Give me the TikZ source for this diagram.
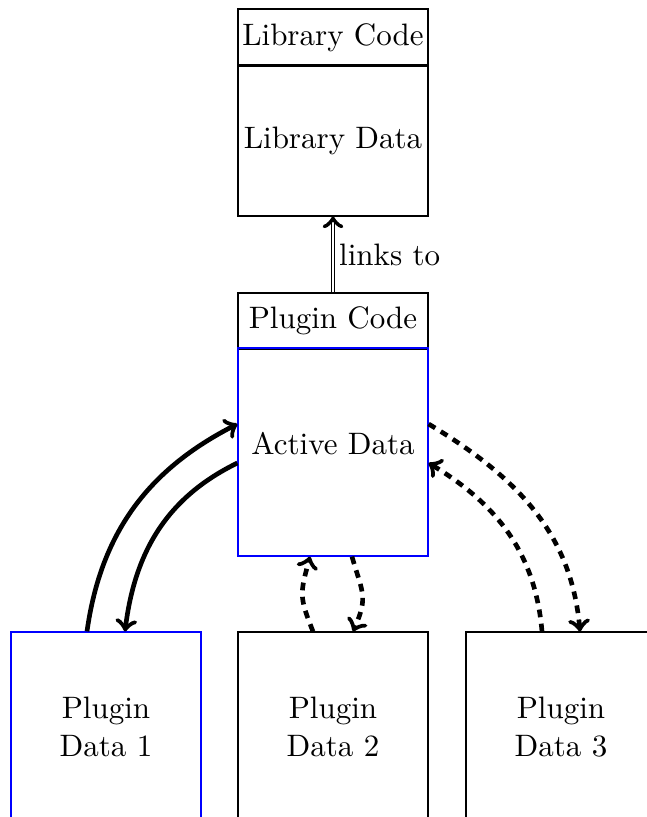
\documentclass[tikz,border=0pt]{standalone}
\usetikzlibrary{calc}
\def\px{0.32258pt}
\tikzset{
  box/.style={draw=black, line width=0.4pt, minimum width=190*\px, inner sep=0pt, align=center},
  bluebox/.style={box, draw=blue},
  solidarrow/.style={->, line width=1.5pt},
  dasharrow/.style={->, line width=1.5pt, dash pattern=on 2.5pt off 2.1pt},
}
\begin{document}
\begin{tikzpicture}[x=\px, y=\px]
\useasboundingbox (0,0) rectangle (647,-817);
\clip (0,0) rectangle (647,-817);
% library
\node[box, minimum height=57*\px] (libcode) at (333,-37.5) {Library Code};
\node[box, minimum height=151*\px] (libdata) at (333,-140.5) {Library Data};
% plugin
\node[box, minimum height=56*\px] (plugcode) at (333,-321) {Plugin Code};
\node[bluebox, minimum height=208*\px, text depth=5.6pt] (active) at (333,-452) {Active Data};
% plugin data
\node[bluebox, minimum height=190*\px] (p1) at (106,-727) {Plugin\\Data 1};
\node[box, minimum height=190*\px] (p2) at (333,-727) {Plugin\\Data 2};
\node[box, minimum height=190*\px] (p3) at (561,-727) {Plugin\\Data 3};
% links to
\draw[double, ->] (plugcode.north) -- node[right, inner sep=1.8pt] {links to} (libdata.south);
% plugin data 1
\draw[solidarrow] ($(p1.north)+(-19,0)$) to[out=82,in=207] ($(active.west)+(0,28)$);
\draw[solidarrow] ($(active.west)+(0,-11)$) to[out=206,in=83] ($(p1.north)+(19,0)$);
% plugin data 2
\draw[dasharrow] ($(p2.north)+(-20,0)$) to[out=112,in=255,looseness=1.3] ($(active.south)+(-23,0)$);
\draw[dasharrow] ($(active.south)+(19,0)$) to[out=-74,in=66,looseness=1.3] ($(p2.north)+(20,0)$);
% plugin data 3
\draw[dasharrow] ($(active.east)+(0,28)$) to[out=-31,in=95] ($(p3.north)+(19,0)$);
\draw[dasharrow] ($(p3.north)+(-19,0)$) to[out=95,in=-31] ($(active.east)+(0,-11)$);
\end{tikzpicture}
\end{document}
